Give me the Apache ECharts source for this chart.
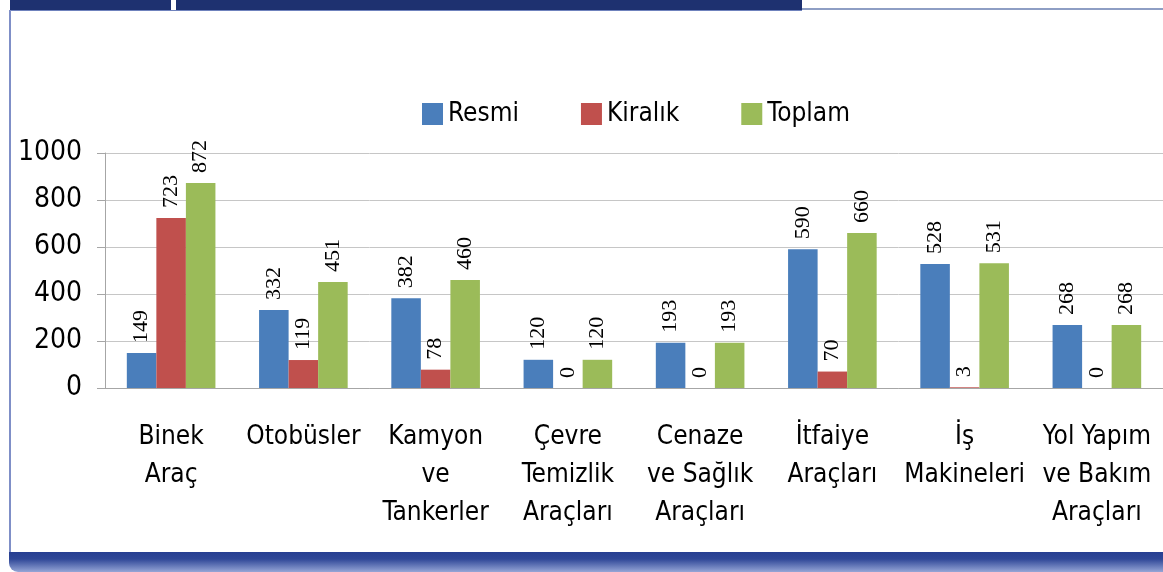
<!DOCTYPE html>
<html>
<head>
<meta charset="utf-8">
<script src="https://cdn.jsdelivr.net/npm/echarts@6/dist/echarts.min.js"></script>
<style>
body{
  margin: 0;
  background: #fff;
}
#chart{
  width: 1163px;
  height: 572px;
}
</style>
</head>
<body>
<div id="chart"></div>
<script>
// kategori ve seri verileri
var categories = ['Binek\nAraç', 'Otobüsler', 'Kamyon\nve\nTankerler', 'Çevre\nTemizlik\nAraçları',
  'Cenaze\nve Sağlık\nAraçları', 'İtfaiye\nAraçları', 'İş\nMakineleri', 'Yol Yapım\nve Bakım\nAraçları']
var resmi = [149, 332, 382, 120, 193, 590, 528, 268]
var kiralik = [723, 119, 78, 0, 0, 70, 3, 0]
var toplam = [872, 451, 460, 120, 193, 660, 531, 268]
var seriesNames = ['Resmi', 'Kiralık', 'Toplam']
var yTicks = [0, 200, 400, 600, 800, 1000]

var colors = ['#4a7ebb', '#c0504d', '#9bbb59']
var sans = '"DejaVu Sans Condensed", "Liberation Sans", sans-serif'

function barSeries(name, data) {
  return {
    name: name,
    type: 'bar',
    data: data,
    barGap: '0%',
    barCategoryGap: '33%',
    label: {
      show: true,
      position: 'top',
      rotate: 90,
      align: 'left',
      verticalAlign: 'middle',
      distance: 10,
      fontFamily: 'Liberation Serif',
      fontSize: 22,
      color: '#000'
    }
  }
}

var chart = echarts.init(document.getElementById('chart'))
chart.setOption({
  animation: false,
  color: colors,
  legend: {
    data: seriesNames,
    left: 422,
    top: 101,
    padding: 0,
    icon: 'rect',
    itemWidth: 21,
    itemHeight: 22,
    itemGap: 62,
    textStyle: {fontFamily: sans, fontSize: 26, color: '#000'}
  },
  grid: {
    left: 105,
    top: 153,
    bottom: 184,
    width: 1064
  },
  xAxis: {
    type: 'category',
    data: categories,
    axisLine: {lineStyle: {color: '#a6a6a6'}},
    axisTick: {length: 9, lineStyle: {color: '#a6a6a6'}},
    axisLabel: {
      interval: 0,
      margin: 30,
      fontFamily: sans,
      fontSize: 26,
      lineHeight: 38,
      color: '#000'
    }
  },
  yAxis: {
    type: 'value',
    min: yTicks[0],
    max: yTicks[yTicks.length - 1],
    interval: 200,
    axisLine: {show: true, lineStyle: {color: '#a6a6a6'}},
    axisTick: {show: true, length: 8, lineStyle: {color: '#a6a6a6'}},
    axisLabel: {
      margin: 23,
      fontFamily: sans,
      fontSize: 28,
      color: '#000',
      formatter: function (v) { return String(v) }
    },
    splitLine: {lineStyle: {color: '#c6c6c6'}}
  },
  series: [
    barSeries(seriesNames[0], resmi),
    barSeries(seriesNames[1], kiralik),
    barSeries(seriesNames[2], toplam)
  ],
  graphic: [
    // ust lacivert bant
    {type: 'rect', shape: {x: 10, y: 0, width: 161, height: 10}, style: {fill: '#1e3170'}},
    {type: 'rect', shape: {x: 176, y: 0, width: 626, height: 10}, style: {fill: '#1e3170'}},
    {type: 'rect', shape: {x: 802, y: 8, width: 361, height: 2}, style: {fill: '#8e9ec4'}},
    {type: 'rect', shape: {x: 10, y: 10, width: 792, height: 1}, style: {fill: '#6f82bd'}},
    // sol cizgi
    {type: 'rect', shape: {x: 9, y: 10, width: 2, height: 545}, style: {fill: '#7f8fc7'}},
    // alt bant
    {
      type: 'rect',
      shape: {x: 9, y: 552, width: 1160, height: 20, r: [0, 0, 0, 9]},
      style: {
        fill: new echarts.graphic.LinearGradient(0, 0, 0, 1, [
          {offset: 0, color: '#263e91'},
          {offset: 0.35, color: '#2f4797'},
          {offset: 1, color: '#95a5d6'}
        ])
      }
    }
  ]
})
</script>
</body>
</html>
